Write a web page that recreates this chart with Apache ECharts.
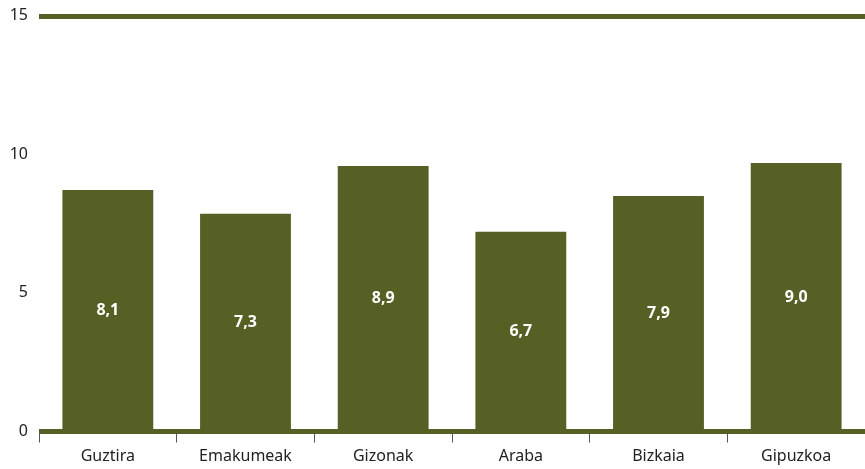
<!DOCTYPE html>
<html>
<head>
<meta charset="utf-8">
<script src="https://cdn.jsdelivr.net/npm/echarts@6/dist/echarts.min.js"></script>
<style>html,body{margin:0;padding:0;background:#fff;}#c{width:865px;height:469px;}</style>
</head>
<body>
<div id="c"></div>
<script>
var categories = ['Guztira', 'Emakumeak', 'Gizonak', 'Araba', 'Bizkaia', 'Gipuzkoa'];
var values = [8.1, 7.3, 8.9, 6.7, 7.9, 9.0];
var yTicks = [0, 5, 10, 15];

var olive = '#566024';
var chart = echarts.init(document.getElementById('c'), null, {renderer: 'canvas'});
chart.setOption({
  animation: false,
  grid: {left: 39, right: 0, top: 15.8, bottom: 37.5},
  xAxis: [{
    type: 'category',
    data: categories,
    position: 'bottom',
    axisLine: {lineStyle: {color: olive, width: 5, cap: 'butt'}},
    axisTick: {show: true, length: 11, lineStyle: {color: '#555', width: 1}},
    axisLabel: {color: '#222', fontFamily: 'Noto Sans', fontSize: 16, margin: 17}
  }, {
    type: 'category',
    data: categories,
    position: 'top',
    axisLine: {show: true, onZero: false, lineStyle: {color: olive, width: 5, cap: 'butt'}},
    axisTick: {show: false},
    axisLabel: {show: false}
  }],
  yAxis: [{
    type: 'value',
    min: yTicks[0],
    max: yTicks[yTicks.length - 1],
    interval: 5,
    axisLine: {show: false},
    axisTick: {show: false},
    splitLine: {show: false},
    axisLabel: {color: '#222', fontFamily: 'Noto Sans', fontSize: 16, margin: 11}
  }, {
    type: 'value',
    min: 0,
    max: 13.94,
    show: false,
    splitLine: {show: false}
  }],
  series: [{
    type: 'bar',
    xAxisIndex: 0,
    yAxisIndex: 1,
    data: values,
    barWidth: '66%',
    itemStyle: {color: olive},
    label: {
      show: true,
      position: 'inside',
      color: '#fff',
      fontFamily: 'Noto Sans',
      fontWeight: 'bold',
      fontSize: 16,
      formatter: function (p) { return String(p.value.toFixed(1)).replace('.', ','); }
    }
  }]
});
</script>
</body>
</html>
